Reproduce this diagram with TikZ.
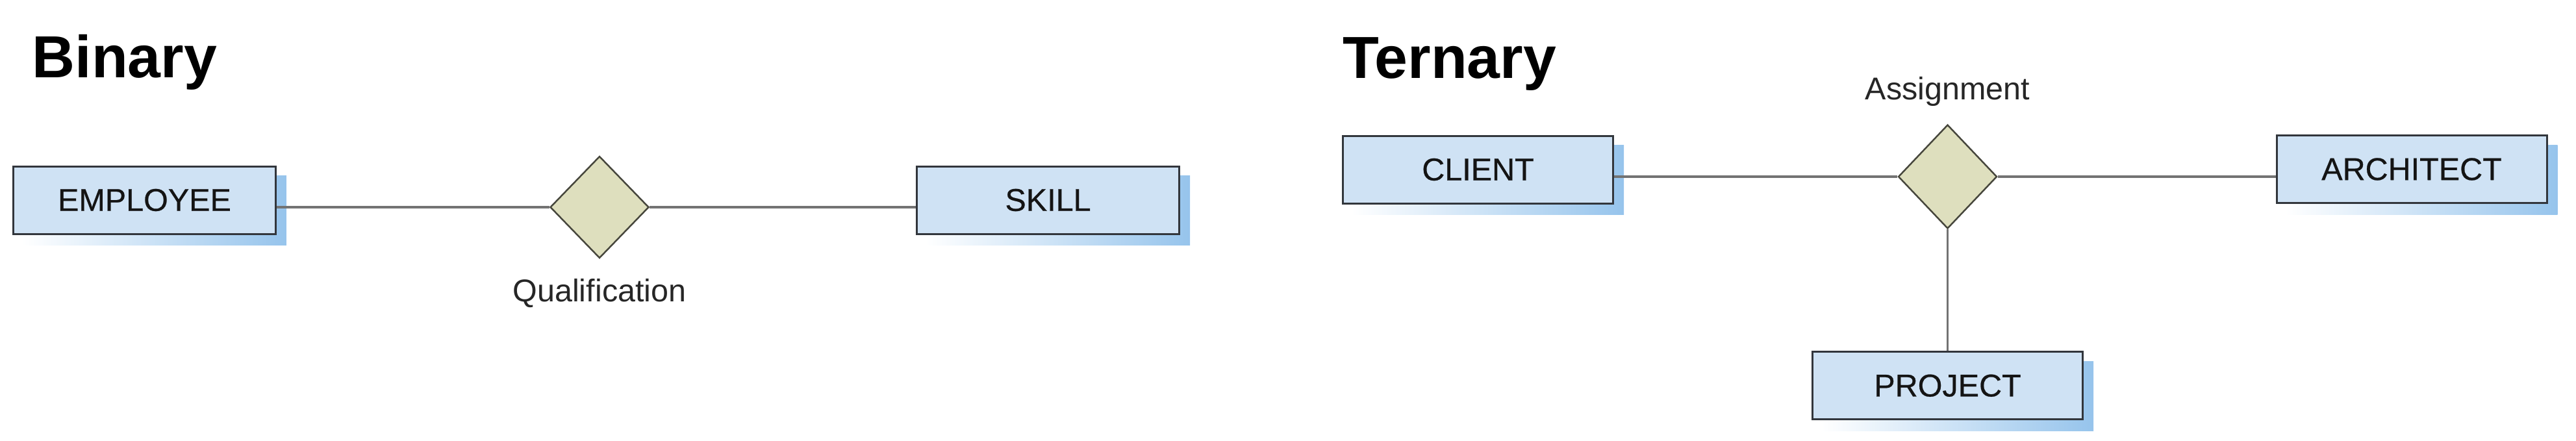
\documentclass[tikz,border=0pt]{standalone}
\usepackage{fontspec}
\setmainfont{Liberation Sans}
\newfontfamily\boxfont[FakeBold=0.5]{Liberation Sans}
\usepackage{xcolor}
\usetikzlibrary{shapes.geometric, positioning, backgrounds}
\definecolor{entityfill}{RGB}{207,226,244}
\definecolor{shadowblue}{RGB}{150,196,236}
\definecolor{boxedge}{RGB}{50,54,60}
\definecolor{relfill}{RGB}{222,223,190}
\definecolor{diaedge}{RGB}{70,70,60}
\definecolor{linkgray}{RGB}{115,115,115}
\tikzset{
  heading/.style={anchor=base west, inner sep=0pt, font=\fontsize{26}{30}\selectfont\bfseries},
  entity/.style={rectangle, minimum width=4.16cm, minimum height=1.04cm, inner sep=0pt,
    draw=boxedge, line width=0.85pt, fill=entityfill, text=black!92,
    font=\boxfont\fontsize{13.8}{16}\selectfont},
  relation/.style={diamond, minimum width=1.52cm, minimum height=1.57cm, inner sep=0pt,
    draw=diaedge, line width=0.7pt, fill=relfill},
  rellabel/.style={inner sep=0pt, text=black!85, font=\fontsize{13.8}{16}\selectfont},
  link/.style={draw=linkgray, line width=1.15pt}
}
\begin{document}
\begin{tikzpicture}
\useasboundingbox (0,0) rectangle (39.66,-6.78);
\node (binTitle)  [heading]                          at (0.49,-1.19)     {Binary};
\node (emp)       [entity, minimum width=4.04cm]     at (2.225,-3.08)    {EMPLOYEE};
\node (qual)      [relation]                         at (9.23,-3.19)     {};
\node (skill)     [entity, minimum width=4.04cm]     at (16.135,-3.08)   {SKILL};
\node (qualLbl)   [rellabel, below=0.3cm of qual]                        {Qualification};

\node (terTitle)  [heading]                          at (20.67,-1.20)    {Ternary};
\node (client)    [entity]                           at (22.755,-2.61)   {CLIENT};
\node (assign)    [relation, minimum height=1.6cm]   at (29.985,-2.72)   {};
\node (arch)      [entity]                           at (37.13,-2.605)   {ARCHITECT};
\node (proj)      [entity, below=1.87cm of assign]                       {PROJECT};
\node (assignLbl) [rellabel, above=0.27cm of assign]                     {Assignment};

\begin{scope}[on background layer]
\foreach \n in {emp,skill,client,arch,proj}
  \shade [left color=white, right color=shadowblue]
    ([shift={(0.15,-0.16)}]\n.south west) rectangle ([shift={(0.15,-0.16)}]\n.north east);
\end{scope}

\draw [link] (emp.east |- qual)    -- (qual);
\draw [link] (qual)                -- (skill.west |- qual);
\draw [link] (client.east |- assign) -- (assign);
\draw [link] (assign)              -- (arch.west |- assign);
\draw [link, line width=0.85pt] (assign) -- (proj);
\end{tikzpicture}
\end{document}
